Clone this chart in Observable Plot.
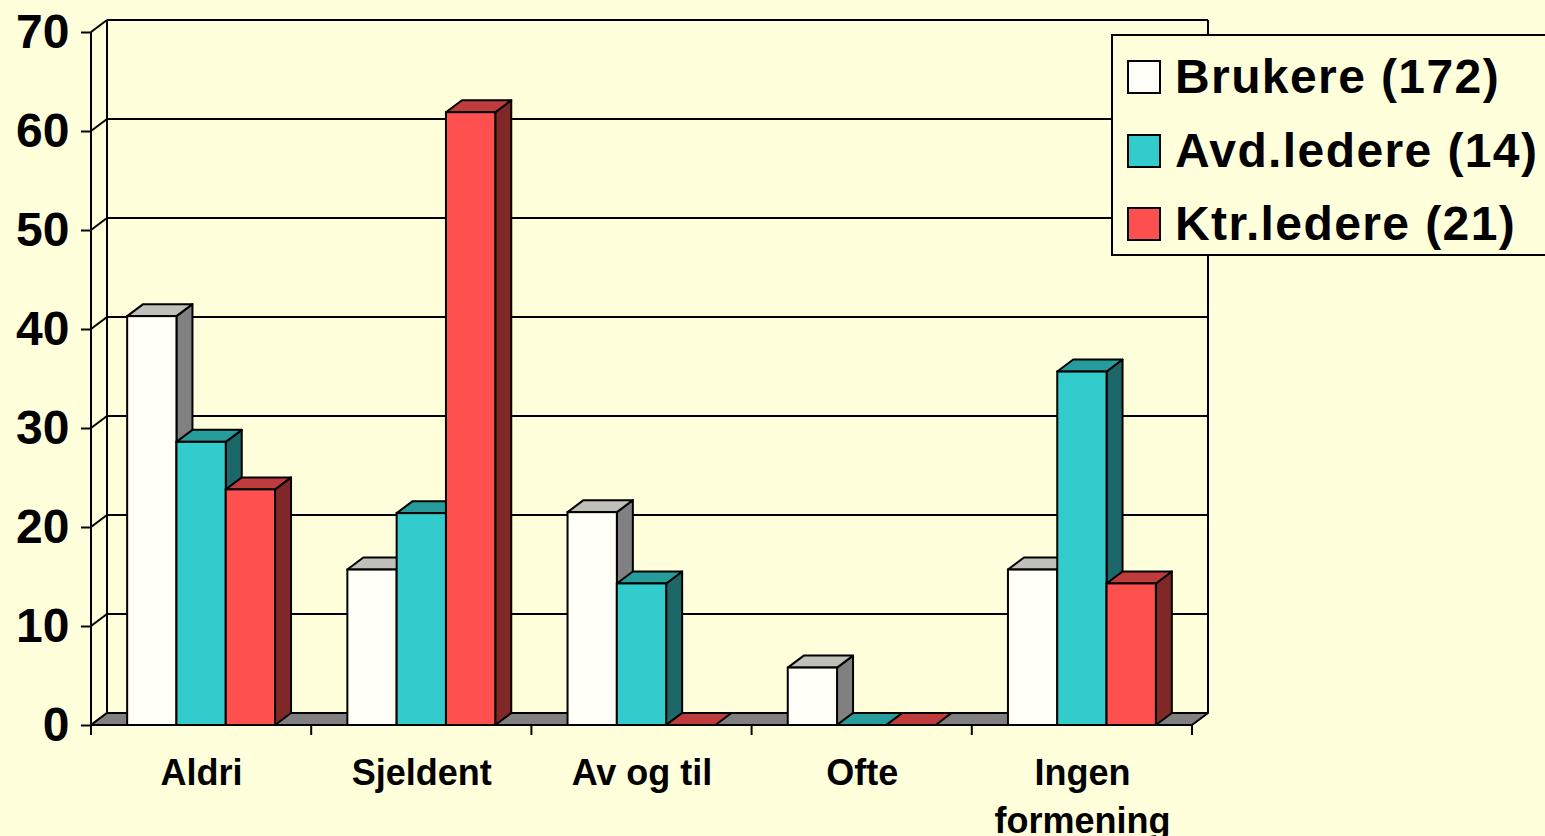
<!DOCTYPE html>
<html>
<head>
<meta charset="utf-8">
<script src="https://cdn.jsdelivr.net/npm/d3@7"></script>
<script src="https://cdn.jsdelivr.net/npm/@observablehq/plot@0.6"></script>
<style>
  html, body { margin: 0; padding: 0; background: #FFFFDB; overflow: hidden; }
  #wrap { position: relative; width: 1545px; height: 836px; }
  #legend { position: absolute; left: 1111px; top: 34px; width: 450px; height: 218px;
            border: 2px solid #000; background: #FFFFDB; box-sizing: content-box;
            font-family: "Liberation Sans", Arial, sans-serif; font-weight: bold; }
  .row { position: absolute; left: 14px; height: 40px; display: flex; align-items: center; }
  .sw { width: 30px; height: 30px; border: 2px solid #000; margin-right: 14px; }
  .lab { font-size: 48px; letter-spacing: 1.4px; line-height: 1; }
</style>
</head>
<body>
<div id="wrap"></div>
<script>
// ---- data ----
const categories = ["Aldri", "Sjeldent", "Av og til", "Ofte", "Ingen formening"];
const tickLabels = ["Aldri", "Sjeldent", "Av og til", "Ofte", "Ingen\nformening"];
const seriesNames = ["Brukere (172)", "Avd.ledere (14)", "Ktr.ledere (21)"];
const brukere   = [41.3, 15.7, 21.5, 5.8, 15.7];
const avdledere = [28.6, 21.4, 14.3, 0, 35.7];
const ktrledere = [23.8, 61.9, 0, 0, 14.3];
const yTicks = [0, 10, 20, 30, 40, 50, 60, 70];

// ---- styling ----
const bg = "#FFFFDB";
const frontColors = ["#FFFFF7", "#33CCCC", "#FF5050"];
const topColors   = ["#C0C0BA", "#279C9C", "#C03C3C"];
const sideColors  = ["#808080", "#1C6868", "#802828"];
const seriesValues = [brukere, avdledere, ktrledere];

const W = 1545, H = 836;
const ML = 91, MR = 1545 - 1192, MT = 32, MB = 836 - 725;
const band = (W - ML - MR) / categories.length;
const barW = 49.3;
const groupOff = (band - seriesValues.length * barW) / 2;
const DX = 16, DY = -12;

const rows = categories.map((c, i) => ({cat: c, i}));

function pathEl(g, d, fill, sw = 2) {
  g.append("path").attr("d", d).attr("fill", fill).attr("stroke", "#000")
    .attr("stroke-width", sw).attr("stroke-linejoin", "round");
}

// back wall, gridlines, floor
function walls(index, scales) {
  const g = d3.create("svg:g");
  const x0 = scales.x(categories[0]);
  const xEnd = scales.x(categories[categories.length - 1]) + band;
  const y0 = scales.y(0), yTop = scales.y(yTicks[yTicks.length - 1]);
  for (const t of yTicks) {
    const y = scales.y(t);
    g.append("line").attr("x1", x0 + DX).attr("x2", xEnd + DX).attr("y1", y + DY).attr("y2", y + DY)
      .attr("stroke", "#000").attr("stroke-width", 2);
    g.append("line").attr("x1", x0).attr("x2", x0 + DX).attr("y1", y).attr("y2", y + DY)
      .attr("stroke", "#000").attr("stroke-width", 2);
  }
  for (const xx of [x0 + DX, xEnd + DX]) {
    g.append("line").attr("x1", xx).attr("x2", xx).attr("y1", yTop + DY).attr("y2", y0 + DY)
      .attr("stroke", "#000").attr("stroke-width", 2);
  }
  pathEl(g, `M${x0},${y0}L${xEnd},${y0}L${xEnd + DX},${y0 + DY}L${x0 + DX},${y0 + DY}Z`, "#808080");
  g.append("line").attr("x1", x0).attr("x2", x0).attr("y1", yTop).attr("y2", y0)
    .attr("stroke", "#000").attr("stroke-width", 2);
  return g.node();
}

function faces(j) {
  return (index, scales) => {
    const g = d3.create("svg:g");
    categories.forEach((c, i) => {
      const v = seriesValues[j][i];
      const x1 = scales.x(c) + groupOff + j * barW, x2 = x1 + barW;
      const y0 = scales.y(0), yt = scales.y(v);
      if (v > 0) pathEl(g, `M${x2},${y0}L${x2},${yt}L${x2 + DX},${yt + DY}L${x2 + DX},${y0 + DY}Z`, sideColors[j]);
      pathEl(g, `M${x1},${yt}L${x2},${yt}L${x2 + DX},${yt + DY}L${x1 + DX},${yt + DY}Z`, topColors[j]);
    });
    return g.node();
  };
}

function bottomAxis(index, scales) {
  const g = d3.create("svg:g");
  const y0 = scales.y(0);
  const xs = categories.map(c => scales.x(c));
  xs.push(xs[xs.length - 1] + band);
  g.append("line").attr("x1", xs[0]).attr("x2", xs[xs.length - 1]).attr("y1", y0).attr("y2", y0)
    .attr("stroke", "#000").attr("stroke-width", 2);
  for (const x of xs) {
    g.append("line").attr("x1", x).attr("x2", x).attr("y1", y0).attr("y2", y0 + 10)
      .attr("stroke", "#000").attr("stroke-width", 2);
  }
  return g.node();
}

const marks = [walls];
seriesValues.forEach((vals, j) => {
  marks.push(faces(j));
  marks.push(Plot.barY(rows, {
    x: "cat", y: d => vals[d.i], fill: frontColors[j], stroke: "#000", strokeWidth: 2,
    insetLeft: groupOff + j * barW,
    insetRight: band - groupOff - (j + 1) * barW
  }));
});
marks.push(bottomAxis);
marks.push(Plot.axisY(yTicks, {
  tickSize: 10, tickPadding: 12, fontSize: 48, strokeWidth: 2, stroke: "#000", fill: "#000", label: null
}));
marks.push(Plot.axisX({
  tickSize: 0, tickPadding: 26, fontSize: 36, fill: "#000", lineHeight: 1.33, label: null,
  textOverflow: null, lineWidth: Infinity,
  tickFormat: d => tickLabels[categories.indexOf(d)]
}));

const chart = Plot.plot({
  width: W, height: H,
  marginLeft: ML, marginRight: MR, marginTop: MT, marginBottom: MB,
  style: {background: bg, fontFamily: "'Liberation Sans', Arial, sans-serif", fontWeight: "bold", color: "#000", overflow: "visible"},
  x: {domain: categories, padding: 0, round: false, axis: null, label: null},
  y: {domain: [0, 70], axis: null, label: null},
  marks
});
document.getElementById("wrap").appendChild(chart);

// legend
const legend = document.createElement("div");
legend.id = "legend";
const rowTops = [57, 131, 204];
seriesNames.forEach((name, j) => {
  const r = document.createElement("div");
  r.className = "row";
  r.style.top = (rowTops[j] - 34 - 2) + "px";
  const sw = document.createElement("div");
  sw.className = "sw"; sw.style.background = frontColors[j];
  const t = document.createElement("span");
  t.className = "lab"; t.textContent = name;
  r.appendChild(sw); r.appendChild(t);
  legend.appendChild(r);
});
document.getElementById("wrap").appendChild(legend);
</script>
</body>
</html>
